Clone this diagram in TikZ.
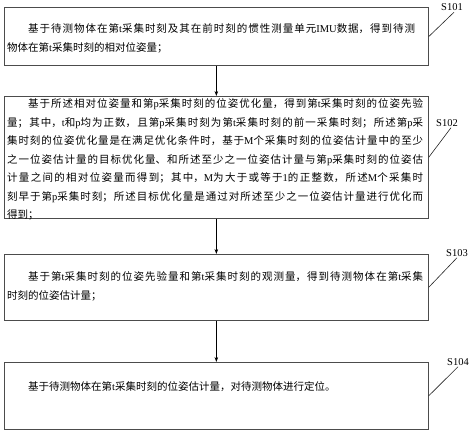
\documentclass[tikz,border=0pt]{standalone}
\usepackage{fontspec}
\setmainfont{Noto Sans CJK SC}
\newfontfamily\lat{Liberation Serif}
\usetikzlibrary{arrows.meta}
\XeTeXlinebreaklocale "zh"
\XeTeXlinebreakskip=0pt plus 1.5pt minus 0.3pt\relax
\tolerance=9999\relax
\newcommand\La[1]{{\lat #1}}
\newcommand\Indent{\hbox to 2em{}}
\tikzset{
  box/.style={draw=black!70, line width=0.7pt, minimum width=424pt, minimum height=#1, inner sep=0pt, anchor=north west},
  txt/.style={anchor=north west, inner sep=0pt, align=justify, text width=#1,
    font=\fontsize{10.5}{18.5}\selectfont},
  steplabel/.style={font=\lat\fontsize{10.5}{12}\selectfont, inner sep=1pt},
  link/.style={line width=0.6pt, black!85},
  flow/.style={line width=0.6pt, -{Stealth[length=5pt,width=3.6pt]}},
}
\begin{document}
\begin{tikzpicture}[x=1pt,y=-1pt]
\useasboundingbox (0,0) rectangle (474,433);
% boxes
\node[box=57.5pt] (b1) at (4,7.5) {};
\node[box=122pt] (b2) at (4,96) {};
\node[box=66pt] (b3) at (4,254) {};
\node[box=67pt] (b4) at (4,362) {};
% texts
\node[txt=408pt] (t1) at (7,23.7) {\Indent 基于待测物体在第\La{t}采集时刻及其在前时刻的惯性测量单元\La{IMU}数据，得到待测\linebreak 物体在第\La{t}采集时刻的相对位姿量；};
\node[txt=416pt] (t2) at (7,98.7) {\Indent 基于所述相对位姿量和第\La{p}采集时刻的位姿优化量，得到第\La{t}采集时刻的位姿先验\linebreak 量；其中，\La{t}和\La{p}均为正数，且第\La{p}采集时刻为第\La{t}采集时刻的前一采集时刻；所述第\La{p}采\linebreak 集时刻的位姿优化量是在满足优化条件时，基于\La{M}个采集时刻的位姿估计量中的至少\linebreak 之一位姿估计量的目标优化量、和所述至少之一位姿估计量与第\La{p}采集时刻的位姿估\linebreak 计量之间的相对位姿量而得到；其中，\La{M}为大于或等于\La{1}的正整数，所述\La{M}个采集时\linebreak 刻早于第\La{p}采集时刻；所述目标优化量是通过对所述至少之一位姿估计量进行优化而\linebreak 得到；};
\node[txt=416pt] (t3) at (7,271.7) {\Indent 基于第\La{t}采集时刻的位姿先验量和第\La{t}采集时刻的观测量，得到待测物体在第\La{t}采集\linebreak 时刻的位姿估计量；};
\node[txt=416pt] (t4) at (7,381.7) {\Indent 基于待测物体在第\La{t}采集时刻的位姿估计量，对待测物体进行定位。};
% step labels
\node[steplabel] (l1) at (452,7.5) {S101};
\node[steplabel] (l2) at (447,123) {S102};
\node[steplabel] (l3) at (457,253) {S103};
\node[steplabel] (l4) at (458,362) {S104};
% arrows
\draw[flow] (b1.south) -- (b2.north);
\draw[flow] (b2.south) -- (b3.north);
\draw[flow] (b3.south) -- (b4.north);
% label leaders
\draw[link] (b1.east) -- ([xshift=2pt]l1.south);
\draw[link] (b2.east) -- ([xshift=4pt]l2.south);
\draw[link] (b3.east) -- (l3.south);
\draw[link] (b4.east) -- (l4.south);
\end{tikzpicture}
\end{document}
